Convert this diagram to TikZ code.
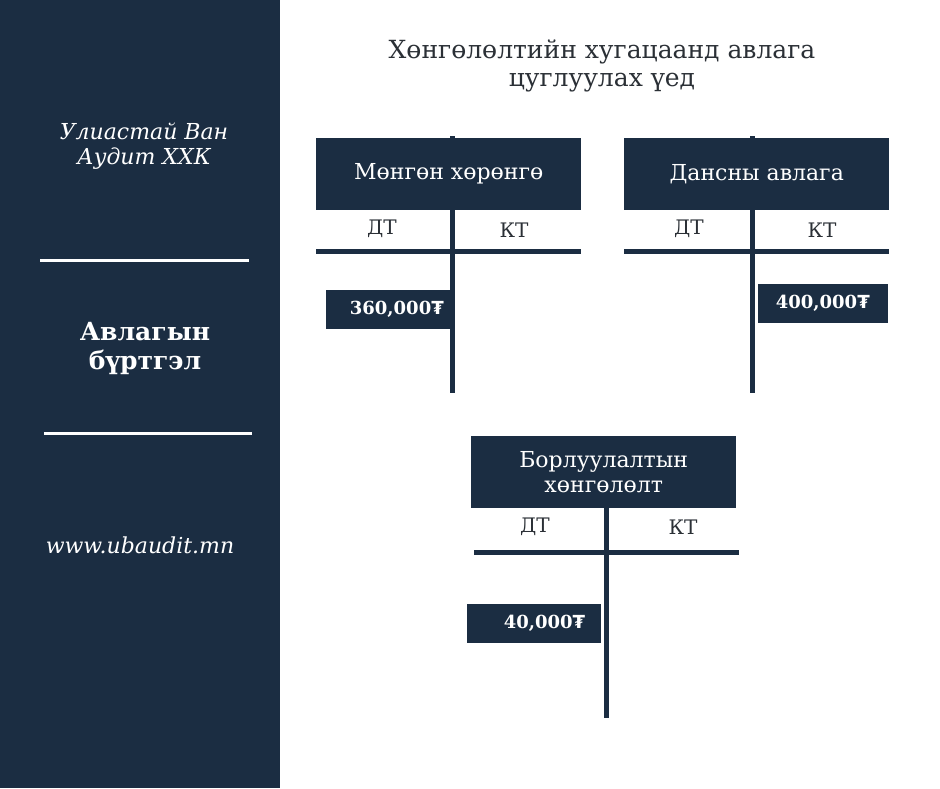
\documentclass[tikz,border=0pt]{standalone}
\usepackage{fontspec}
\setmainfont{DejaVu Serif}
\newfontfamily\tugfont{DejaVu Sans}
\usepackage{tikz}
\usetikzlibrary{positioning}
\definecolor{navy}{HTML}{1B2D42}
\definecolor{ink}{HTML}{2B3036}
\newcommand{\tug}{{\tugfont ₮}}

\begin{document}
\begin{tikzpicture}[
  x=1pt, y=-1pt,
  hdr/.style={fill=navy, text=white, minimum width=265pt, minimum height=72pt, inner sep=0pt, align=center, font=\fontsize{22}{25}\selectfont},
  amt/.style={fill=navy, text=white, minimum height=39pt, inner ysep=0pt, font=\bfseries\fontsize{18}{20}\selectfont},
  bar/.style={navy, line width=5pt},
  side/.style={text=white, align=center},
  col/.style={text=ink, font=\fontsize{20}{22}\selectfont}
]
\useasboundingbox (0,0) rectangle (940,788);
\fill[white] (0,0) rectangle (940,788);
\fill[navy] (0,0) rectangle (280,788);

% left panel
\node[side, font=\itshape\fontsize{22}{25}\selectfont] (firm) at (144,146) {Улиастай Ван\\Аудит ХХК};
\draw[white, line width=3pt] (40,260) -- (249,260);
\node[side, font=\bfseries\fontsize{25}{29}\selectfont] (topic) at (145,348) {Авлагын\\бүртгэл};
\draw[white, line width=3pt] (44,433) -- (252,433);
\node[side, font=\itshape\fontsize{22}{24}\selectfont] (web) at (140,545) {www.ubaudit.mn};

% title
\node[text=ink, align=center, font=\fontsize{25}{28}\selectfont] (title) at (602,66) {Хөнгөлөлтийн хугацаанд авлага\\цуглуулах үед};

% cash account
\coordinate (cashend) at (452,393);
\draw[bar] (452,136) -- (cashend);
\node[hdr, anchor=north west] (cash) at (316,138) {Мөнгөн хөрөнгө};
\draw[bar] ([yshift=-41pt]cash.south west) -- ([yshift=-41pt]cash.south east);
\node[col] (cashdt) at (382,229) {ДТ};
\node[col] (cashkt) at (514,230) {КТ};
\node[amt, anchor=north east, inner xsep=8pt, text width=110pt, align=right] (cashamt) at (452,290) {360,000\tug};

% receivables account
\coordinate (recend) at (752,393);
\draw[bar] (752,136) -- (recend);
\node[hdr, anchor=north west] (rec) at (624,138) {Дансны авлага};
\draw[bar] ([yshift=-41pt]rec.south west) -- ([yshift=-41pt]rec.south east);
\node[col] (recdt) at (689,229) {ДТ};
\node[col] (reckt) at (822,230) {КТ};
\node[amt, anchor=north east, inner xsep=8pt, text width=114pt, align=center] (recamt) at (888,284) {400,000\tug};

% discount account
\coordinate (discend) at (606,718);
\node[hdr, anchor=north west] (disc) at (471,436) {Борлуулалтын\\хөнгөлөлт};
\draw[bar] (disc.south -| discend) -- (discend);
\draw[bar] (474,552) -- (739,552);
\node[col] (discdt) at (535,527) {ДТ};
\node[col] (disckt) at (683,527) {КТ};
\node[amt, anchor=north west, inner xsep=16pt, text width=102pt, align=right] (discamt) at (467,604) {40,000\tug};
\end{tikzpicture}
\end{document}
